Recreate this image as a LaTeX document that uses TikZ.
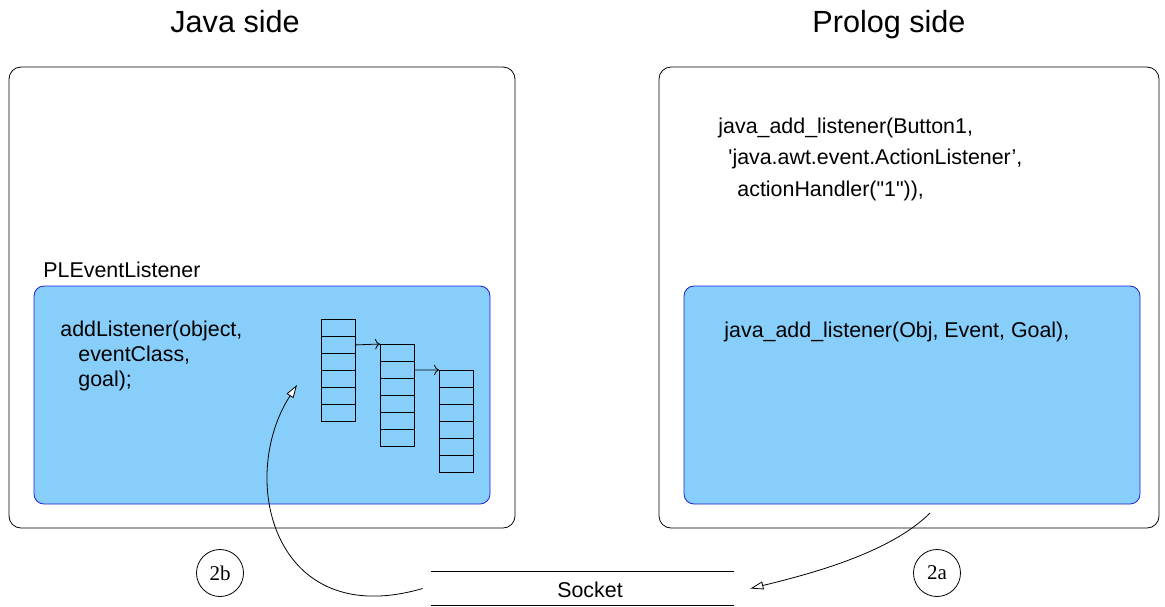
\documentclass[tikz,border=0pt]{standalone}
\usepackage{fontspec}
\setmainfont{Liberation Sans}
\newfontfamily\numfont{Liberation Serif}
\usepackage{tikz}
\usetikzlibrary{arrows.meta}
\definecolor{boxblue}{RGB}{135,206,250}
\definecolor{edgeblue}{RGB}{30,30,220}
\tikzset{
	codetext/.style={anchor=base west, inner sep=0pt, font=\fontsize{10.7}{12}\selectfont},
	sidetitle/.style={anchor=base west, inner sep=0pt, font=\fontsize{15.3}{18}\selectfont},
	cell/.style={draw, minimum width=17pt, minimum height=8.5pt, inner sep=0pt, anchor=north west},
	stepmark/.style={draw, circle, minimum size=23.5pt, inner sep=0pt, font=\numfont\fontsize{10.5}{12}\selectfont},
	openhead/.style={-{Triangle[fill=white, length=6.5pt, width=4pt]}}
}

\begin{document}
\begin{tikzpicture}[x=0.5pt, y=-0.5pt]
				\useasboundingbox (0,0) rectangle (1165,606);
				\draw[rounded corners=6pt] (9,67) rectangle (515,528);
				\draw[rounded corners=6pt] (659,67) rectangle (1159,528);
				\draw[draw=edgeblue, fill=boxblue, rounded corners=5pt] (34,286) rectangle (490,504);
				\draw[draw=edgeblue, fill=boxblue, rounded corners=5pt] (684,286) rectangle (1140,504);
				\node[sidetitle] (javatitle) at (170,32) {Java side};
				\node[sidetitle] (prologtitle) at (812,32) {Prolog side};
				\node[codetext] (plevent) at (43,277) {PLEventListener};
				\node[codetext] (addl1) at (60,336) {addListener(object,};
				\node[codetext] (addl2) at (78,361) {eventClass,};
				\node[codetext] (addl3) at (78,386) {goal);};
				\node[codetext] (jadd1) at (718,133) {java\_add\_listener(Button1,};
				\node[codetext] (jadd2) at (728,164) {\textquotesingle java.awt.event.ActionListener',};
				\node[codetext] (jadd3) at (737,196) {actionHandler(\textquotedbl 1\textquotedbl)),};
				\node[codetext] (jaddgen) at (724,337) {java\_add\_listener(Obj, Event, Goal),};
				\foreach \s/\x/\y in {1/321/319, 2/380/344, 3/439/370} {
					\foreach \c in {0,...,5}
						\node[cell] (s\s c\c) at (\x, \y+17*\c) {};
				}
				\draw[->] (s1c1.east) -- (s2c0.north west);
				\draw[->] (s2c1.east) -- (s3c0.north west);
				\node[minimum width=151.5pt, minimum height=16.5pt, inner sep=0pt] (socket) at (582.5,588.5) {};
				\draw (socket.north west) -- (socket.north east);
				\draw (socket.south west) -- (socket.south east);
				\node[codetext, anchor=base] (sockettext) at (590,597) {Socket};
				\node[stepmark] (step2b) at (220,573) {2b};
				\node[stepmark] (step2a) at (937,573) {2a};
				\coordinate (prologsrc) at (930,513);
				\coordinate (listhead) at (297,385);
				\draw[openhead] (prologsrc) .. controls (890,553) and (810,574) .. ([xshift=8pt]socket.east);
				\draw[openhead] ([xshift=-4pt]socket.west) .. controls (273,632) and (237,478) .. (listhead);
			\end{tikzpicture}
\end{document}
